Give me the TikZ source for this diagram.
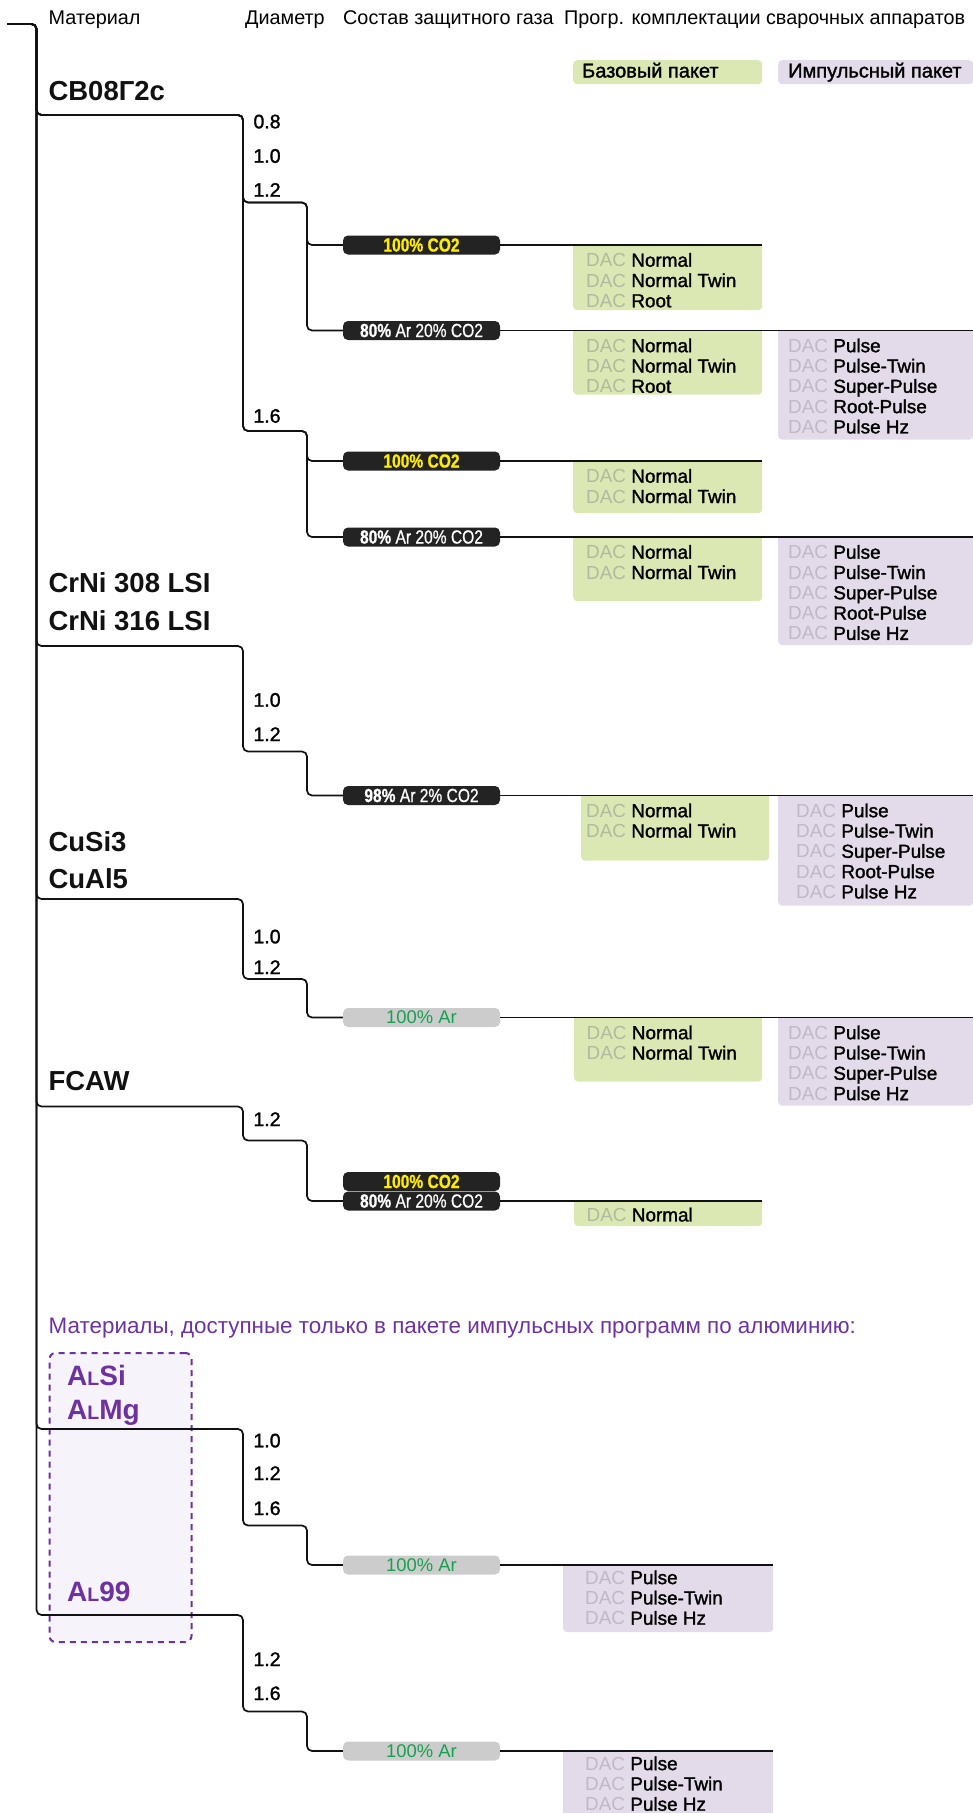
\documentclass[tikz,border=0pt]{standalone}
\usepackage{fontspec}
\setmainfont{Liberation Sans}
\newfontfamily\medfont[FakeBold=1.5]{Liberation Sans}
\newfontfamily\pillfont[FakeStretch=0.82, FakeBold=0.8]{Liberation Sans}
\usepackage{xcolor}
\usepackage{tikz}
\definecolor{ink}{RGB}{17,17,17}
\definecolor{basefill}{RGB}{220,232,180}
\definecolor{pulsefill}{RGB}{228,219,234}
\definecolor{baseboxdac}{RGB}{176,186,158}
\definecolor{pulseboxdac}{RGB}{192,184,200}
\definecolor{pilldark}{RGB}{35,35,35}
\definecolor{pillgray}{RGB}{204,204,204}
\definecolor{gasyellow}{RGB}{255,236,0}
\definecolor{gasgreen}{RGB}{24,160,80}
\definecolor{alviolet}{RGB}{110,50,160}
\definecolor{alufill}{RGB}{246,243,250}
\tikzset{
  hdr/.style={anchor=base west, inner sep=0pt, font=\fontsize{19.8}{22}\selectfont},
  mat/.style={anchor=base west, inner sep=0pt, text=ink, font=\fontsize{27.5}{30}\selectfont\bfseries},
  alu/.style={mat, text=alviolet, font=\fontsize{28}{30}\selectfont\bfseries},
  diam/.style={anchor=base west, inner sep=0pt, font=\fontsize{19.5}{22}\selectfont\medfont},
  pill/.style={rounded corners=5pt, minimum width=157, minimum height=19, inner sep=0pt,
               font=\fontsize{19}{19}\selectfont\pillfont},
  gasco/.style={pill, fill=pilldark, text=gasyellow, font=\fontsize{19}{19}\selectfont\pillfont\bfseries},
  gasmix/.style={pill, fill=pilldark, text=white},
  gasar/.style={pill, fill=pillgray, text=gasgreen, font=\fontsize{18.4}{19}\selectfont},
  basebox/.style={fill=basefill, rounded corners=4pt, anchor=north west, inner sep=0pt},
  pulsebox/.style={basebox, fill=pulsefill},
  pkgtext/.style={anchor=north west, inner sep=0pt, align=left, font=\fontsize{18.9}{20.3}\selectfont},
  wire/.style={draw=ink, line width=1.7pt, rounded corners=5pt},
  alubox/.style={draw=alviolet, dash pattern=on 6pt off 5pt, line width=2pt, fill=alufill,
                 rounded corners=6pt, anchor=north west, inner sep=0pt},
}
\newcommand{\daccol}{baseboxdac}
\newcommand{\dac}[1]{{\color{\daccol}DAC} {\medfont #1}}
\newcommand{\mix}{{\bfseries 80\%} Ar 20\% CO2}
\newcommand{\smallL}{{\fontsize{19.5}{20}\selectfont L}}
% ветка: от корня через материал и диаметр к газу, потом до края
\newcommand{\vetka}[4]{\draw[wire] (root) -| (#1) -| (#2) -| (gcol |- #3) -- (#3.west);
  \draw[wire] (#3.east) -- (#3 -| #4);}
% пакет программ: плашка и текст
\newcommand{\paket}[8]{\renewcommand{\daccol}{#1dac}%
  \node[#1, minimum width=#5, minimum height=#6] (#2) at (#3,#4) {};
  \fill[#1, sharp corners] (#2.north west) rectangle ([yshift=-6pt]#2.north east);
  \node[pkgtext] (#2t) at ([shift={(#7)}]#2.north west) {#8};}

\begin{document}
\begin{tikzpicture}[x=1pt, y=-1pt]
\useasboundingbox (0,0) rectangle (973,1813);

% Заголовки колонок
\node[hdr] (hmat) at (48.5,24) {Материал};
\node[hdr] (hdia) at (245,24) {Диаметр};
\node[hdr] (hgas) at (343,24) {Состав защитного газа};
\node[hdr] (hprg) at (564,24) {Прогр. комплектации сварочных аппаратов};

% Легенда
\node[basebox, minimum width=189, minimum height=24] (legbase) at (573,60) {};
\node[pkgtext, anchor=base west, font=\fontsize{20}{22}\selectfont\medfont] (legbaset) at (582,77.5) {Базовый пакет};
\node[pulsebox, minimum width=195, minimum height=24] (legpulse) at (778,60) {};
\node[pkgtext, anchor=base west, font=\fontsize{20}{22}\selectfont\medfont] (legpulset) at (788,77.5) {Импульсный пакет};

% Материалы
\node[mat] (sv) at (48.3,100.7) {СВ08Г2с};
\node[mat] (crni1) at (48.3,592.3) {CrNi 308 LSI};
\node[mat] (crni2) at (48.3,630) {CrNi 316 LSI};
\node[mat] (cusi) at (48.3,851.7) {CuSi3};
\node[mat] (cual) at (48.3,888.3) {CuAl5};
\node[mat] (fcaw) at (48.3,1090) {FCAW};

% ====== Алюминий ======
\node[hdr, text=alviolet, font=\fontsize{22.4}{24}\selectfont] (aluhead) at (48.5,1333.3)
  {Материалы, доступные только в пакете импульсных программ по алюминию:};
\node[alubox, minimum width=142, minimum height=289] (alurect) at (48.5,1352) {};
\node[alu] (alsi) at (67,1385) {A\smallL Si};
\node[alu] (almg) at (67,1419) {A\smallL Mg};
\node[alu] (al99) at (67,1601.7) {A\smallL 99};

% Диаметры
\foreach \t/\y [count=\i] in {0.8/128.3, 1.0/162.7, 1.2/196.7, 1.6/422.7, 1.0/706.7, 1.2/741,
    1.0/943.3, 1.2/974, 1.2/1126, 1.0/1447.3, 1.2/1480, 1.6/1515, 1.2/1666, 1.6/1700}
  \node[diam] (dia\i) at (253.3,\y) {\t};

% Пакеты программ
\paket{basebox}{b1a}{573}{245}{189}{65}{13,7.8}{\dac{Normal}\\\dac{Normal Twin}\\\dac{Root}}
\paket{basebox}{b1b}{573}{330.5}{189}{64}{13,7.8}{\dac{Normal}\\\dac{Normal Twin}\\\dac{Root}}
\paket{pulsebox}{p1b}{778}{330.5}{195}{109}{10,7.8}{\dac{Pulse}\\\dac{Pulse-Twin}\\\dac{Super-Pulse}\\\dac{Root-Pulse}\\\dac{Pulse Hz}}
\paket{basebox}{b1c}{573}{461}{189}{52}{13,7.8}{\dac{Normal}\\\dac{Normal Twin}}
\paket{basebox}{b1d}{573}{537}{189}{64}{13,7.8}{\dac{Normal}\\\dac{Normal Twin}}
\paket{pulsebox}{p1d}{778}{537}{195}{108}{10,7.8}{\dac{Pulse}\\\dac{Pulse-Twin}\\\dac{Super-Pulse}\\\dac{Root-Pulse}\\\dac{Pulse Hz}}
\paket{basebox}{b2}{581}{795.5}{188}{65}{5,7.8}{\dac{Normal}\\\dac{Normal Twin}}
\paket{pulsebox}{p2}{778}{795.5}{195}{110}{18,7.8}{\dac{Pulse}\\\dac{Pulse-Twin}\\\dac{Super-Pulse}\\\dac{Root-Pulse}\\\dac{Pulse Hz}}
\paket{basebox}{b3}{574}{1017.5}{188}{64}{12.5,7.8}{\dac{Normal}\\\dac{Normal Twin}}
\paket{pulsebox}{p3}{778}{1017.5}{195}{88}{10,7.8}{\dac{Pulse}\\\dac{Pulse-Twin}\\\dac{Super-Pulse}\\\dac{Pulse Hz}}
\paket{basebox}{b4}{574}{1201}{188}{25}{12.5,6.5}{\dac{Normal}}
\paket{pulsebox}{p5}{563}{1565}{210}{67}{22,5.2}{\dac{Pulse}\\\dac{Pulse-Twin}\\\dac{Pulse Hz}}
\paket{pulsebox}{p6}{563}{1751}{210}{70}{22,5.2}{\dac{Pulse}\\\dac{Pulse-Twin}\\\dac{Pulse Hz}}

% Газы
\node[gasco] (g1a) at (421.5,245) {100\% CO2};
\node[gasmix] (g1b) at (421.5,330.5) {\mix};
\node[gasco] (g1c) at (421.5,461) {100\% CO2};
\node[gasmix] (g1d) at (421.5,537) {\mix};
\node[gasmix] (g2) at (421.5,795.5) {{\bfseries 98\%} Ar 2\% CO2};
\node[gasar] (g3) at (421.5,1017.5) {100\% Ar};
\node[gasco] (g4co) at (421.5,1181.5) {100\% CO2};
\node[gasmix] (g4) at (421.5,1201) {\mix};
\node[gasar] (g5) at (421.5,1565) {100\% Ar};
\node[gasar] (g6) at (421.5,1751) {100\% Ar};

% Узлы дерева
\coordinate (root) at (7,24);
\coordinate (gcol) at (307,0);
\coordinate (edge) at (973,0);
\coordinate (cut) at (762,0);
\coordinate (alcut) at (773,0);
\coordinate (m1) at (36.5,115);
\coordinate (m2) at (36.5,646);
\coordinate (m3) at (36.5,899);
\coordinate (m4) at (36.5,1106.5);
\coordinate (m5) at (36.5,1429);
\coordinate (m6) at (36.5,1615);
\coordinate (d1a) at (243,202.5);
\coordinate (d1b) at (243,431);
\coordinate (d2) at (243,751.5);
\coordinate (d3) at (243,979);
\coordinate (d4) at (243,1140.5);
\coordinate (d5) at (243,1525.5);
\coordinate (d6) at (243,1711.5);

% Ветки
\vetka{m1}{d1a}{g1a}{cut}
\vetka{m1}{d1a}{g1b}{edge}
\vetka{m1}{d1b}{g1c}{cut}
\vetka{m1}{d1b}{g1d}{edge}
\vetka{m2}{d2}{g2}{edge}
\vetka{m3}{d3}{g3}{edge}
\vetka{m4}{d4}{g4}{cut}
\vetka{m5}{d5}{g5}{alcut}
\vetka{m6}{d6}{g6}{alcut}

\end{tikzpicture}
\end{document}
